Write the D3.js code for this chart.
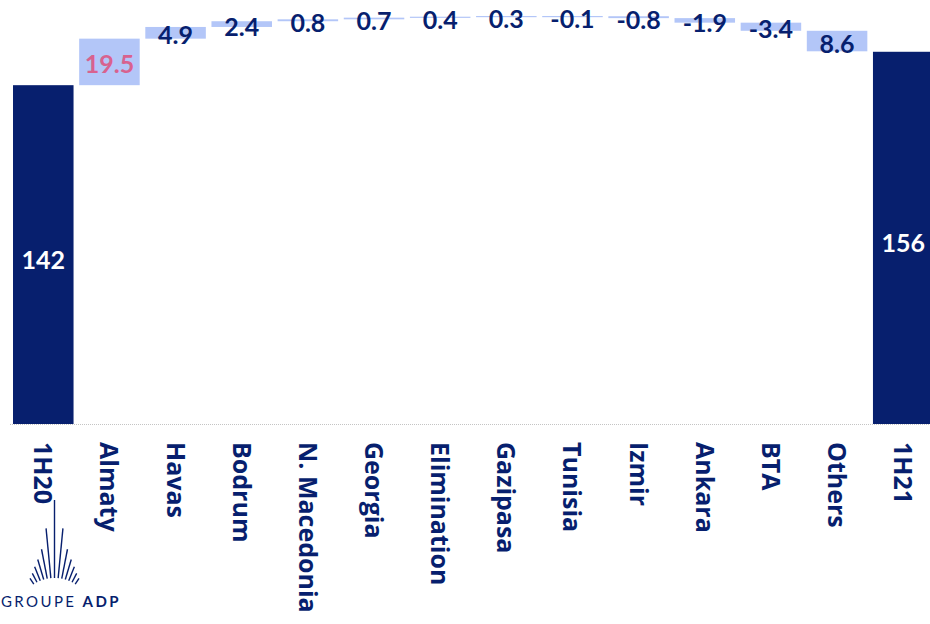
<!DOCTYPE html>
<html>
<head>
<meta charset="utf-8">
<script src="https://cdn.jsdelivr.net/npm/d3@7"></script>
<style>
  body { margin: 0; background: #ffffff; }
  svg { display: block; }
</style>
</head>
<body>
<svg id="chart" width="930" height="624"></svg>
<script>
// Revenue bridge 1H20 -> 1H21 (waterfall)
const categories = ["1H20", "Almaty", "Havas", "Bodrum", "N. Macedonia", "Georgia", "Elimination",
                    "Gazipasa", "Tunisia", "Izmir", "Ankara", "BTA", "Others", "1H21"];
const startTotal = 142;
const endTotal = 156;
const deltas = [19.5, 4.9, 2.4, 0.8, 0.7, 0.4, 0.3, -0.1, -0.8, -1.9, -3.4, -8.6];
const valueLabels = ["142", "19.5", "4.9", "2.4", "0.8", "0.7", "0.4", "0.3",
                     "-0.1", "-0.8", "-1.9", "-3.4", "8.6", "156"];
const highlighted = ["Almaty"];

const NAVY = "#071f6e";
const LIGHT = "#b3c6f8";
const PINK = "#d8628f";
const NUM_FONT = "Lato, 'Open Sans', sans-serif";
const CAT_FONT = "'Open Sans', Lato, sans-serif";

// Build the floating segments
const rows = [];
rows.push({ name: categories[0], lo: 0, hi: startTotal, total: true, label: valueLabels[0] });
let running = startTotal;
deltas.forEach((d, i) => {
  const next = running + d;
  rows.push({ name: categories[i + 1], lo: Math.min(running, next), hi: Math.max(running, next),
              total: false, label: valueLabels[i + 1] });
  running = next;
});
rows.push({ name: categories[categories.length - 1], lo: 0, hi: endTotal, total: true,
            label: valueLabels[valueLabels.length - 1] });

const svg = d3.select("#chart");

const x = d3.scaleBand()
  .domain(categories)
  .range([10.2, 936.3])
  .paddingInner(0.085)
  .paddingOuter(0.0425);

const y = d3.scaleLinear()
  .domain([0, 177.7])
  .range([424, 0]);

// Bars
svg.append("g")
  .selectAll("rect")
  .data(rows)
  .join("rect")
  .attr("x", d => x(d.name))
  .attr("width", x.bandwidth())
  .attr("y", d => y(d.hi))
  .attr("height", d => Math.max(y(d.lo) - y(d.hi), 1.2))
  .attr("fill", d => d.total ? NAVY : LIGHT);

// Baseline
svg.append("line")
  .attr("x1", 10).attr("x2", 930)
  .attr("y1", y(0) + 0.5).attr("y2", y(0) + 0.5)
  .attr("stroke", "#c4c4c4")
  .attr("stroke-width", 1)
  .attr("stroke-dasharray", "1,1");

// Value labels (totals sit a little below their bar's middle)
svg.append("g")
  .selectAll("text")
  .data(rows)
  .join("text")
  .attr("x", d => x(d.name) + x.bandwidth() / 2)
  .attr("y", d => d.total ? y(d.hi * 0.485) : (y(d.hi) + y(d.lo)) / 2 + 2.5)
  .attr("dy", "0.36em")
  .attr("text-anchor", "middle")
  .attr("font-family", NUM_FONT)
  .attr("font-weight", 700)
  .attr("font-size", 25)
  .attr("fill", d => d.total ? "#ffffff" : (highlighted.includes(d.name) ? PINK : NAVY))
  .text(d => d.label);

// Category labels, rotated
svg.append("g")
  .selectAll("text")
  .data(categories)
  .join("text")
  .attr("transform", d => `translate(${x(d) + x.bandwidth() / 2},442) rotate(90)`)
  .attr("dy", "0.36em")
  .attr("text-anchor", "start")
  .attr("font-family", CAT_FONT)
  .attr("font-weight", 700)
  .attr("font-size", 25)
  .attr("fill", NAVY)
  .text(d => d);

// Groupe ADP mark: fan of rays and wordmark
const logo = svg.append("g").attr("stroke", NAVY).attr("stroke-width", 1.4).attr("stroke-linecap", "butt");
const focus = { x: 54.5, y: 616 };
const rayStep = 5.5 * Math.PI / 180;
const rayInner = 38;
const rayOuter = [116, 88, 68, 59, 53, 48, 45];
for (let k = -6; k <= 6; k++) {
  const a = k * rayStep;
  const r2 = rayOuter[Math.abs(k)];
  logo.append("line")
    .attr("x1", focus.x + rayInner * Math.sin(a))
    .attr("y1", focus.y - rayInner * Math.cos(a))
    .attr("x2", focus.x + r2 * Math.sin(a))
    .attr("y2", focus.y - r2 * Math.cos(a));
}
const word = svg.append("text")
  .attr("x", 1).attr("y", 607)
  .attr("font-family", "Lato, sans-serif")
  .attr("font-size", 15)
  .attr("letter-spacing", 2.4)
  .attr("fill", NAVY);
word.append("tspan").attr("font-weight", 400).text("GROUPE ");
word.append("tspan").attr("font-weight", 700).text("ADP");
</script>
</body>
</html>
